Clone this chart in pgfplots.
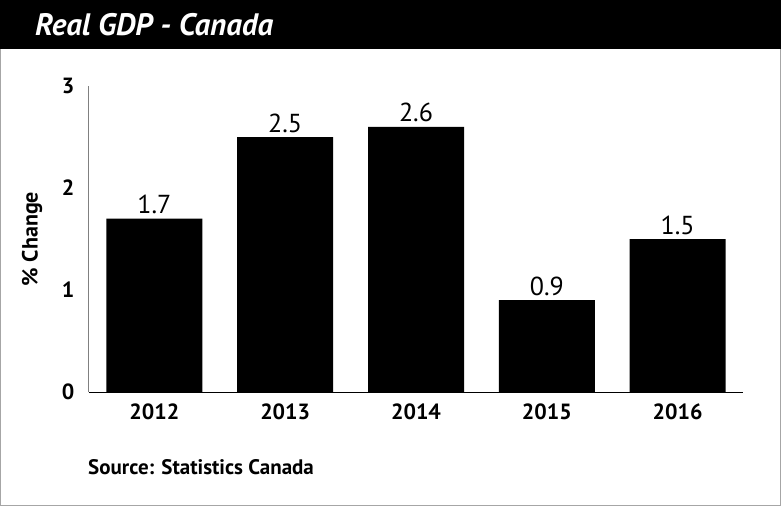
\documentclass[border=0pt]{standalone}
\usepackage{fontspec}
\setmainfont{PT Sans}
\usepackage{pgfplots}
\pgfplotsset{compat=1.18}
\begin{document}
\begin{tikzpicture}[x=1pt,y=1pt]
\useasboundingbox (0,0) rectangle (781,-506);
\draw[gray!70, line width=1.2pt] (0.6,-0.6) rectangle (780.4,-505.4);
\fill[black] (0,0) rectangle (781,-49);
\node[anchor=base west, text=white, inner sep=0pt,
      font=\fontsize{31}{36}\selectfont\bfseries\itshape] at (35,-35) {Real GDP - Canada};
\begin{axis}[
    at={(89pt,-392pt)}, anchor=south west,
    scale only axis, width=654pt, height=306pt,
    xmin=-0.5, xmax=4.5, ymin=0, ymax=3,
    ytick={0,1,2,3},
    xtick={0,1,2,3,4},
    xticklabels={2012,2013,2014,2015,2016},
    axis x line=bottom, axis y line=left,
    axis line style={-},
    x axis line style={black, line width=1pt},
    y axis line style={gray, line width=1pt},
    tick style={draw=none},
    ybar, bar width=96pt,
    /pgf/number format/assume math mode=true,
    yticklabel style={font=\fontsize{22}{24}\selectfont\bfseries, xshift=-9pt},
    xticklabel style={font=\fontsize{22}{26}\selectfont\bfseries, yshift=-4pt},
    ylabel={\% Change},
    ylabel style={font=\fontsize{22}{26}\selectfont\bfseries, at={(axis description cs:-0.087,0.5)}, anchor=center, rotate=0},
    nodes near coords,
    nodes near coords style={font=\fontsize{26}{30}\selectfont,
        /pgf/number format/fixed, /pgf/number format/fixed zerofill,
        /pgf/number format/precision=1, yshift=1pt},
]
\addplot[fill=black, draw=none] coordinates {(0,1.7) (1,2.5) (2,2.6) (3,0.9) (4,1.5)};
\end{axis}
\node[anchor=base west, inner sep=0pt, font=\fontsize{21}{24}\selectfont\bfseries]
    at (88,-474) {Source: Statistics Canada};
\end{tikzpicture}
\end{document}
